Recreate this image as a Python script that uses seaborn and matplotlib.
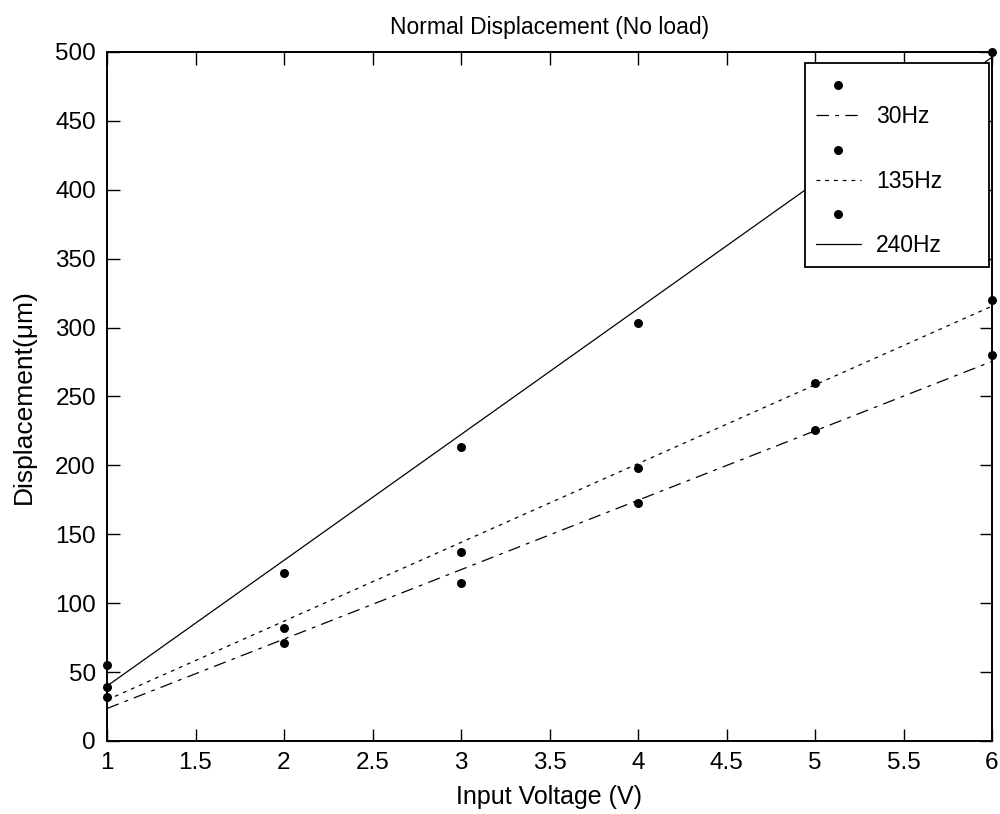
import numpy as np
import pandas as pd
import matplotlib
matplotlib.use("Agg")
import matplotlib.pyplot as plt
import seaborn as sns

# Data
voltage = [1, 2, 3, 4, 5, 6]
disp_30hz = [32, 71, 115, 173, 226, 280]
disp_135hz = [39, 82, 137, 198, 260, 320]
disp_240hz = [55, 122, 213, 303, 415, 500]
series_labels = ["30Hz", "135Hz", "240Hz"]
x_ticks = [1, 1.5, 2, 2.5, 3, 3.5, 4, 4.5, 5, 5.5, 6]
y_ticks = [0, 50, 100, 150, 200, 250, 300, 350, 400, 450, 500]

sns.set_style("ticks")
plt.rcParams["font.family"] = ["Liberation Sans", "DejaVu Sans"]
plt.rcParams["xtick.direction"] = "in"
plt.rcParams["ytick.direction"] = "in"
plt.rcParams["text.color"] = "black"
plt.rcParams["axes.labelcolor"] = "black"
plt.rcParams["xtick.labelcolor"] = "black"
plt.rcParams["ytick.labelcolor"] = "black"

FS_TICK = 17.5
FS_LEG = 16.5

fig = plt.figure(figsize=(10, 8.14), dpi=100)
ax = fig.add_axes([0.107, 0.0897, 0.885, 0.8465])

styles = [(0, (10, 5, 3, 5)), (0, (3, 4)), "-"]
series = [disp_30hz, disp_135hz, disp_240hz]
handles, labels = [], []
for vals, lab, ls in zip(series, series_labels, styles):
    df = pd.DataFrame({"V": voltage, "D": vals})
    sns.regplot(data=df, x="V", y="D", ax=ax, ci=None, truncate=True,
                color="black",
                scatter_kws={"s": 42, "color": "black", "alpha": 1,
                             "zorder": 3, "linewidths": 0, "clip_on": False},
                line_kws={"color": "black", "linewidth": 0.9, "linestyle": ls})
    handles.append(ax.collections[-1])
    labels.append("")
    handles.append(ax.lines[-1])
    labels.append(lab)

ax.set_xlim(1, 6)
ax.set_ylim(0, 500)
ax.set_xticks(x_ticks)
ax.set_xticklabels([f"{t:g}" for t in x_ticks])
ax.set_yticks(y_ticks)
ax.tick_params(axis="both", which="both", top=True, right=True, length=9,
               width=1.0, labelsize=FS_TICK, color="black", labelcolor="black")
ax.tick_params(axis="x", pad=8)
ax.tick_params(axis="y", pad=8)
for sp in ax.spines.values():
    sp.set_visible(True)
    sp.set_linewidth(1.4)
    sp.set_color("black")

ax.set_xlabel("Input Voltage (V)", fontsize=18, labelpad=8, color="black")
ax.set_ylabel("Displacement(\u03bcm)", fontsize=19, labelpad=14, color="black")
ax.set_title("Normal Displacement (No load)", fontsize=16.5, pad=13, color="black")

leg = ax.legend(handles, labels, loc="upper right",
                bbox_to_anchor=(0.789, 0.0, 0.2076, 0.984),
                mode="expand", borderaxespad=0, fancybox=False, framealpha=1,
                edgecolor="black", fontsize=FS_LEG, scatterpoints=1,
                handlelength=2.0, handletextpad=0.65,
                labelspacing=0.4, borderpad=0.45)
for t in leg.get_texts():
    t.set_color("black")
leg.get_frame().set_linewidth(1.3)
leg.set_zorder(10)

fig.savefig("out.png", dpi=100, facecolor="white")
